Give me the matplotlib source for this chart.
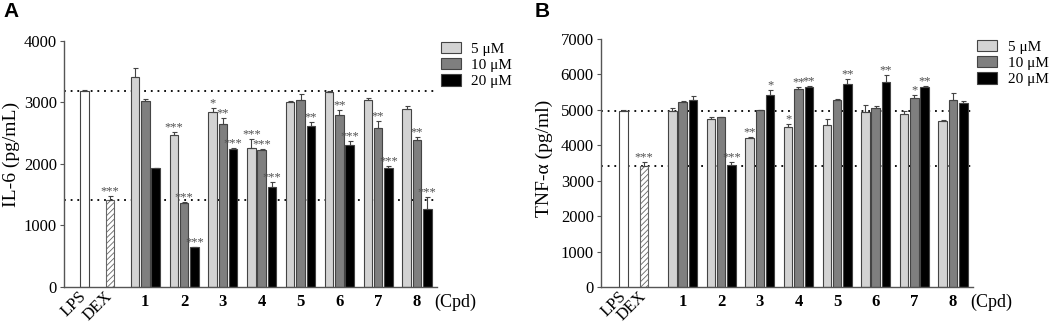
import numpy as np
import matplotlib
matplotlib.use('Agg')
from matplotlib import pyplot as plt
from matplotlib.patches import Patch

plt.rcParams['font.family'] = ['Liberation Serif', 'DejaVu Serif']
plt.rcParams['hatch.linewidth'] = 0.6

cpds = ['1', '2', '3', '4', '5', '6', '7', '8']
conc_labels = ['5 μM', '10 μM', '20 μM']

# IL-6 (panel A)
il6_lps, il6_lps_err = 3180, 20
il6_dex, il6_dex_err = 1420, 55
il6_vals = [
    [3415, 2470, 2848, 2253, 3005, 3167, 3042, 2891],
    [3021, 1361, 2648, 2227, 3042, 2799, 2577, 2394],
    [1929, 643, 2237, 1621, 2616, 2308, 1929, 1270],
]
il6_errs = [
    [140, 40, 60, 150, 10, 10, 20, 50],
    [40, 20, 100, 20, 90, 75, 125, 50],
    [10, 10, 15, 85, 65, 60, 40, 195],
]
il6_sig = [
    ['', '***', '*', '***', '', '', '', ''],
    ['', '***', '**', '***', '', '**', '**', '**'],
    ['', '***', '***', '***', '**', '***', '***', '***'],
]

# TNF-a (panel B)
tnf_lps, tnf_lps_err = 4960, 40
tnf_dex, tnf_dex_err = 3415, 100
tnf_vals = [
    [4970, 4740, 4214, 4507, 4582, 4931, 4883, 4685],
    [5221, 4789, 4987, 5580, 5287, 5061, 5326, 5278],
    [5269, 3443, 5428, 5654, 5739, 5795, 5645, 5185],
]
tnf_errs = [
    [90, 50, 15, 85, 150, 200, 75, 15],
    [15, 15, 15, 75, 30, 50, 95, 195],
    [115, 80, 130, 15, 140, 190, 15, 75],
]
tnf_sig = [
    ['', '', '**', '*', '', '', '', ''],
    ['', '', '', '**', '', '', '*', ''],
    ['', '***', '*', '**', '**', '**', '**', ''],
]

bar_colors = ['#d3d3d3', '#7f7f7f', '#000000']
edge = '#444444'
star_color = '#505050'


def add_stars(ax, x, top, sig):
    if sig:
        ax.annotate(sig, (x, top), xytext=(0, 1.2), textcoords='offset points',
                    ha='center', va='baseline', fontsize=9, color=star_color)


def draw_panel(ax, lps, lps_err, dex, dex_err, vals, errs, sigs,
               lps_x, dex_x, xlim, ymax, ylabel, label_xy):
    width = 0.22
    step = 0.266
    groups = np.arange(1, len(cpds) + 1)

    ax.axhline(lps, ls=(0, (1, 2.7)), lw=1.3, color='k', zorder=1)
    ax.axhline(dex, ls=(0, (1, 2.7)), lw=1.3, color='k', zorder=1)

    ax.bar(lps_x, lps, width, color='white', edgecolor=edge, lw=0.8, zorder=2)
    ax.bar(dex_x, dex, width, color='white', edgecolor='#666666', hatch='//////',
           lw=0.8, zorder=2)
    ax.errorbar([lps_x, dex_x], [lps, dex], yerr=[[0, 0], [lps_err, dex_err]],
                fmt='none', ecolor=edge, elinewidth=0.8, capsize=1.8,
                capthick=0.8, zorder=3)
    add_stars(ax, dex_x, dex + dex_err, '***')

    for i in range(3):
        xs = groups + (i - 1) * step
        ax.bar(xs, vals[i], width, color=bar_colors[i], edgecolor=edge,
               lw=0.8, zorder=2)
        ax.errorbar(xs, vals[i], yerr=[np.zeros(len(xs)), errs[i]], fmt='none',
                    ecolor=edge, elinewidth=0.8, capsize=1.8, capthick=0.8,
                    zorder=3)
        for x, v, e, s in zip(xs, vals[i], errs[i], sigs[i]):
            add_stars(ax, x, v + e, s)

    ax.set_xlim(*xlim)
    ax.set_ylim(0, ymax)
    ax.set_yticks(np.arange(0, ymax + 1, 1000))
    ax.tick_params(axis='y', direction='out', length=3, width=0.8,
                   color='#555555', labelsize=12, pad=2)
    ax.tick_params(axis='x', length=0, pad=5)
    ax.set_xticks([lps_x, dex_x] + list(groups))
    ax.set_xticklabels(['LPS', 'DEX'] + cpds)
    for k, t in enumerate(ax.get_xticklabels()):
        t.set_fontsize(12)
        if k < 2:
            t.set_rotation(45)
            t.set_ha('right')
            t.set_va('center')
            t.set_rotation_mode('anchor')
        else:
            t.set_fontweight('bold')
    ax.text(label_xy, -0.062, '(Cpd)', transform=ax.transAxes, ha='center',
            va='center', fontsize=13)

    for side in ['top', 'right']:
        ax.spines[side].set_visible(False)
    for side in ['left', 'bottom']:
        ax.spines[side].set_color('#555555')
        ax.spines[side].set_linewidth(1.0)

    ax.set_ylabel(ylabel, fontsize=14)


fig = plt.figure(figsize=(10.52, 3.26), dpi=100)
ax_a = fig.add_axes([64 / 1052, 1 - 287 / 326, 372.7 / 1052, 246.3 / 326])
ax_b = fig.add_axes([600.7 / 1052, 1 - 287 / 326, 372 / 1052, 248 / 326])

draw_panel(ax_a, il6_lps, il6_lps_err, il6_dex, il6_dex_err, il6_vals, il6_errs,
           il6_sig, -0.57, 0.09, (-1.095, 8.51), 4000, 'IL-6 (pg/mL)', 1.049)
draw_panel(ax_b, tnf_lps, tnf_lps_err, tnf_dex, tnf_dex_err, tnf_vals, tnf_errs,
           tnf_sig, -0.53, 0.0, (-1.12, 8.51), 7000, 'TNF-α (pg/ml)', 1.051)
ax_a.yaxis.set_label_coords(-0.118, 0.54)
ax_b.yaxis.set_label_coords(-0.128, 0.52)

handles = [Patch(facecolor=c, edgecolor=edge, lw=0.8) for c in bar_colors]
for ax, x0, y0 in [(ax_a, 440.7, 42), (ax_b, 977.3, 40)]:
    ax.legend(handles, conc_labels, loc='upper left',
              bbox_to_anchor=(x0 / 1052, 1 - y0 / 326),
              bbox_transform=fig.transFigure, frameon=False, fontsize=11,
              handlelength=1.3, handleheight=0.75, handletextpad=0.7,
              labelspacing=0.15, borderpad=0, borderaxespad=0)

fig.text(3 / 1052, 1 - 2 / 326, 'A', fontsize=15, fontweight='bold',
         family=['Liberation Sans', 'DejaVu Sans'], va='top', ha='left')
fig.text(535 / 1052, 1 - 2 / 326, 'B', fontsize=15, fontweight='bold',
         family=['Liberation Sans', 'DejaVu Sans'], va='top', ha='left')

fig.savefig('out.png', dpi=100)
